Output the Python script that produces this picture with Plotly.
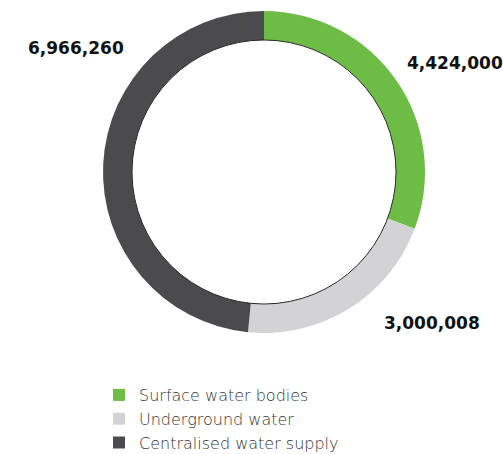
import plotly.graph_objects as go

categories = ["Surface water bodies", "Underground water", "Centralised water supply"]
values = [4424000, 3000008, 6966260]
colors = ["#6dbc45", "#d3d3d5", "#4b4b4d"]

W, H = 503, 454
cx, cy, R = 264, 172, 161
hole = 0.82

fig = go.Figure()
fig.add_trace(go.Pie(
    labels=categories, values=values, sort=False, direction="clockwise", rotation=0,
    hole=hole, marker=dict(colors=colors, line=dict(width=0)),
    textinfo="none", hoverinfo="label+value",
    domain=dict(x=[(cx - R) / W, (cx + R) / W], y=[(H - cy - R) / H, (H - cy + R) / H]),
))

# label placement (pixel positions of each value label: left edge, vertical centre)
label_pos = [(405, 63), (382, 323), (26, 48)]
annotations = []
for v, (px, py) in zip(values, label_pos):
    annotations.append(dict(
        text=f"<b>{v:,}</b>", x=px / W, y=1 - py / H, xref="paper", yref="paper",
        xanchor="left", yanchor="middle", showarrow=False,
        font=dict(family="DejaVu Sans", size=17, color="#111111"),
    ))

ri = R * hole
shapes = [dict(type="circle", xref="paper", yref="paper",
               x0=(cx - ri) / W, x1=(cx + ri) / W,
               y0=1 - (cy + ri) / H, y1=1 - (cy - ri) / H,
               line=dict(color="#2a2a2a", width=1))]

fig.update_layout(
    width=W, height=H, margin=dict(l=0, r=0, t=0, b=0, autoexpand=False),
    paper_bgcolor="white", plot_bgcolor="white",
    annotations=annotations, shapes=shapes,
    showlegend=True,
    legend=dict(x=99 / W, y=1 - 378 / H, xanchor="left", yanchor="top",
                font=dict(family="DejaVu Sans", size=16, color="#333333", weight=300),
                tracegroupgap=0, itemclick=False),
)

fig.write_html("out.html", config={"displayModeBar": False},
               post_script="document.body.style.margin='0';")
